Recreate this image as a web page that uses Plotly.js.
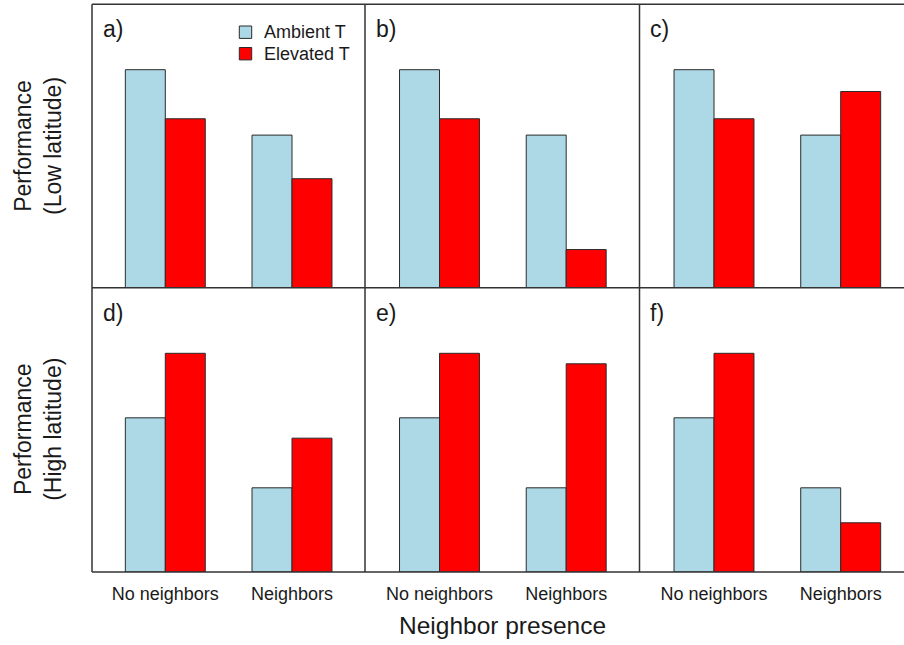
<!DOCTYPE html>
<html>
<head>
<meta charset="utf-8">
<script src="https://cdn.plot.ly/plotly-3.0.1.min.js"></script>
<style>html,body{margin:0;padding:0;background:#fff;}#chart{width:904px;height:645px;}</style>
</head>
<body>
<div id="chart"></div>
<script>
// ---- data ----
const categories = ["No neighbors", "Neighbors"];
const seriesNames = ["Ambient T", "Elevated T"];
const panelLabels = ["a)", "b)", "c)", "d)", "e)", "f)"];
const rowTitles = ["Performance<br>(Low latitude)", "Performance<br>(High latitude)"];
const xTitle = "Neighbor presence";

const ambient_a = [10.0, 7.0];
const elevated_a = [7.75, 5.0];
const ambient_b = [10.0, 7.0];
const elevated_b = [7.75, 1.75];
const ambient_c = [10.0, 7.0];
const elevated_c = [7.75, 9.0];
const ambient_d = [7.05, 3.85];
const elevated_d = [10.0, 6.12];
const ambient_e = [7.05, 3.85];
const elevated_e = [10.0, 9.52];
const ambient_f = [7.05, 3.85];
const elevated_f = [10.0, 2.25];

const ambientAll = [ambient_a, ambient_b, ambient_c, ambient_d, ambient_e, ambient_f];
const elevatedAll = [elevated_a, elevated_b, elevated_c, elevated_d, elevated_e, elevated_f];

// ---- layout geometry (pixels) ----
const W = 904, H = 645;
const colEdges = [92, 365, 639.5, 904];
const rowEdges = [4.3, 287.7, 572];
const catPx = 126.7;          // pixels per category
const firstCenterOffset = [73.3, 74.5, 74.5];
const fx = p => p / W;
const fy = p => 1 - p / H;

const COL_AMB = "#ADD8E6", COL_ELE = "#FF0000", EDGE = "#2b2b2b";
const seriesColors = [COL_AMB, COL_ELE];
const FONT = "Liberation Sans, Arial, sans-serif";

const traces = [];
const layout = {
  width: W, height: H,
  margin: {l: 0, r: 0, t: 0, b: 0},
  paper_bgcolor: "#fff", plot_bgcolor: "#fff",
  font: {family: FONT, color: "#1a1a1a"},
  barmode: "group", bargap: 0.369, bargroupgap: 0,
  showlegend: false,
  shapes: [], annotations: []
};

for (let i = 0; i < 6; i++) {
  const r = Math.floor(i / 3), c = i % 3;
  const n = i + 1;
  const xa = "x" + (n === 1 ? "" : n), ya = "y" + (n === 1 ? "" : n);
  traces.push({
    type: "bar", x: categories, y: ambientAll[i], name: seriesNames[0],
    xaxis: xa, yaxis: ya,
    marker: {color: COL_AMB, line: {color: EDGE, width: 1}}, hoverinfo: "skip"
  });
  traces.push({
    type: "bar", x: categories, y: elevatedAll[i], name: seriesNames[1],
    xaxis: xa, yaxis: ya,
    marker: {color: COL_ELE, line: {color: EDGE, width: 1}}, hoverinfo: "skip"
  });
  const x0 = colEdges[c], x1 = colEdges[c + 1];
  const lo = -firstCenterOffset[c] / catPx;
  const hi = lo + (x1 - x0) / catPx;
  const xKey = "xaxis" + (n === 1 ? "" : n), yKey = "yaxis" + (n === 1 ? "" : n);
  layout[xKey] = {
    domain: [fx(x0), fx(x1)], anchor: ya, type: "category",
    range: [lo, hi], showgrid: false, zeroline: false, showline: false,
    ticks: "", showticklabels: r === 1, ticklabelstandoff: 9,
    tickfont: {size: 18, family: FONT, color: "#1a1a1a"},
    fixedrange: true
  };
  layout[yKey] = {
    domain: [fy(rowEdges[r + 1]), fy(rowEdges[r])], anchor: xa,
    range: [0, 13], showgrid: false, zeroline: false, showline: false,
    showticklabels: false, ticks: "", fixedrange: true
  };
  layout.annotations.push({
    xref: "paper", yref: "paper", x: fx(x0 + 8.5), y: fy(rowEdges[r] + 25.2),
    xanchor: "left", yanchor: "middle", text: panelLabels[i], showarrow: false,
    font: {size: 23, family: FONT, color: "#1a1a1a"}
  });
}

// legend (drawn as keyed squares + labels inside panel a)
const legendRowsY = [32.2, 53.7];
seriesNames.forEach((name, k) => {
  const cy = legendRowsY[k];
  layout.shapes.push({
    type: "rect", xref: "paper", yref: "paper",
    x0: fx(239.3), x1: fx(251.7), y0: fy(cy - 6.2), y1: fy(cy + 6.2),
    fillcolor: seriesColors[k], line: {color: EDGE, width: 1}
  });
  layout.annotations.push({
    xref: "paper", yref: "paper", x: fx(261.5), y: fy(cy),
    xanchor: "left", yanchor: "middle", text: name, showarrow: false,
    font: {size: 18, family: FONT, color: "#1a1a1a"}
  });
});

// frame lines
const line = (x0, y0, x1, y1) => ({
  type: "line", xref: "paper", yref: "paper", x0: fx(x0), y0: fy(y0), x1: fx(x1), y1: fy(y1),
  line: {color: "#333", width: 1.5}, layer: "above"
});
rowEdges.forEach(y => layout.shapes.push(line(colEdges[0], y, W, y)));
[colEdges[0], colEdges[1], colEdges[2]].forEach(x => layout.shapes.push(line(x, rowEdges[0], x, rowEdges[2])));

// row titles
rowTitles.forEach((t, r) => {
  layout.annotations.push({
    xref: "paper", yref: "paper", x: fx(38), y: fy((rowEdges[r] + rowEdges[r + 1]) / 2),
    xanchor: "center", yanchor: "middle", textangle: -90, text: t, showarrow: false,
    font: {size: 23, family: FONT, color: "#1a1a1a"}
  });
});
// x title
layout.annotations.push({
  xref: "paper", yref: "paper", x: fx(502.5), y: fy(625),
  xanchor: "center", yanchor: "middle", text: xTitle, showarrow: false,
  font: {size: 24.5, family: FONT, color: "#1a1a1a"}
});

Plotly.newPlot("chart", traces, layout, {displayModeBar: false, staticPlot: true});
</script>
</body>
</html>
